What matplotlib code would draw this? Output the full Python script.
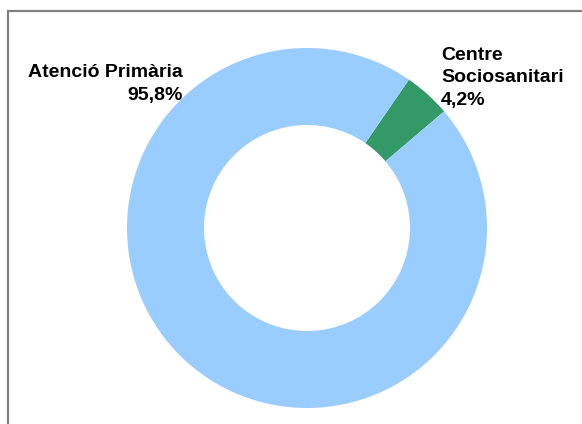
import matplotlib
matplotlib.use("Agg")
import matplotlib.pyplot as plt
from matplotlib.patches import Rectangle

categories = ["Centre\nSociosanitari", "Atenció Primària"]
shares = [4.2, 95.8]
colors = ["#339966", "#99CCFF"]

W, H = 582, 424
fig = plt.figure(figsize=(W / 100, H / 100), dpi=100)
ax = fig.add_axes([0, 0, 1, 1])

cx, cy, r_out, r_in = 307, H - 228, 180, 103
ax.pie(shares, colors=colors, startangle=55.5, counterclock=False,
       center=(cx, cy), radius=r_out, frame=True,
       wedgeprops=dict(width=r_out - r_in, linewidth=0))
ax.set_xlim(0, W)
ax.set_ylim(0, H)
ax.set_aspect("equal")
ax.axis("off")

# chart frame (runs off the right and bottom edges)
ax.add_patch(Rectangle((8, -10), 600, H - 11 + 10, fill=False,
                       edgecolor="#808080", linewidth=1.6))

fmt = lambda v: f"{v:.1f}%".replace(".", ",")
font = dict(family=["Liberation Sans", "DejaVu Sans"], fontsize=14, fontweight="bold")
ax.text(183, H - 84, f"{categories[1]}\n{fmt(shares[1])}", ha="right", va="center",
        multialignment="right", linespacing=1.42, **font)
ax.text(441, H - 78, f"{categories[0]}\n{fmt(shares[0])}", ha="left", va="center",
        multialignment="left", linespacing=1.42, **font)

fig.savefig("out.png", dpi=100)
